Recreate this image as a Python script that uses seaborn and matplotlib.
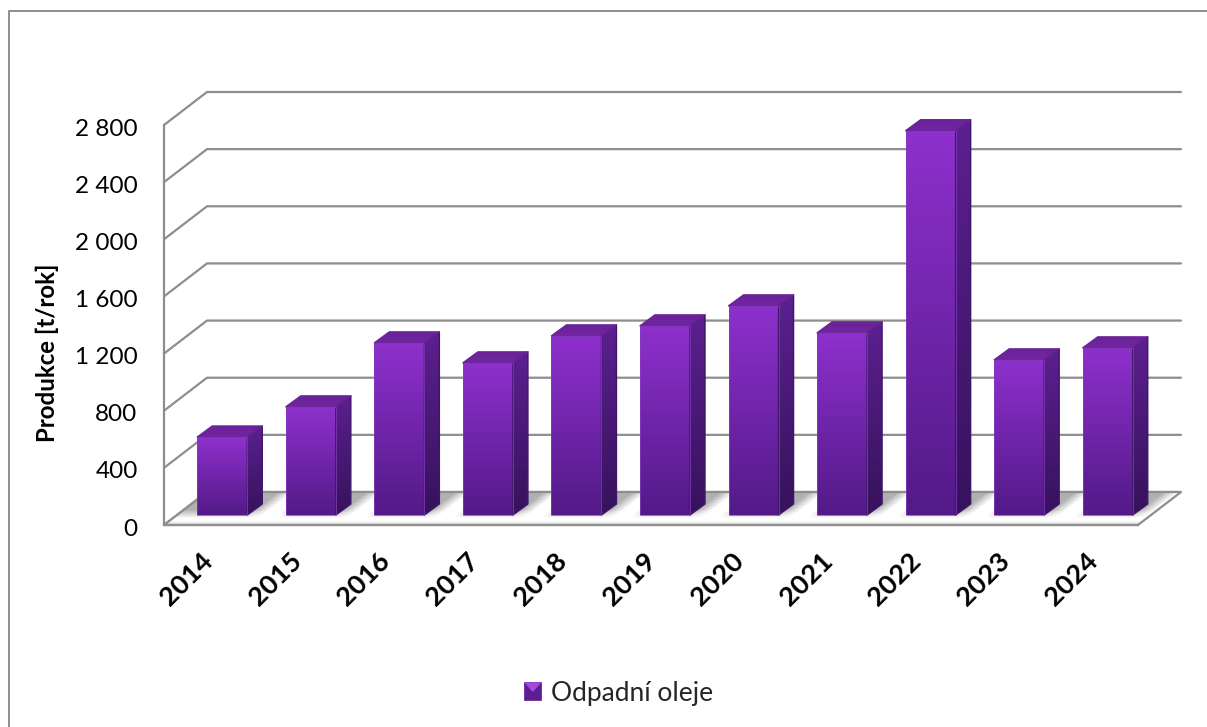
import matplotlib
matplotlib.use('Agg')
import matplotlib.pyplot as plt
from matplotlib.colors import LinearSegmentedColormap
from matplotlib.legend_handler import HandlerBase
from matplotlib.lines import Line2D
from matplotlib.patches import Patch, Polygon
from matplotlib.transforms import ScaledTranslation
import numpy as np
import seaborn as sns

# Chart data
years = ['2014', '2015', '2016', '2017', '2018', '2019', '2020', '2021', '2022', '2023', '2024']
production = [546, 757, 1205, 1065, 1254, 1324, 1464, 1275, 2690, 1086, 1170]
y_ticks = [0, 400, 800, 1200, 1600, 2000, 2400, 2800]
y_tick_labels = ['0', '400', '800', '1 200', '1 600', '2 000', '2 400', '2 800']
series_name = 'Odpadní oleje'
y_title = 'Produkce [t/rok]'

W, H = 1207, 727
LINE = '#8e8e8e'

sns.set_theme(style='white')
plt.rcParams['font.family'] = ['Lato', 'DejaVu Sans']

fig = plt.figure(figsize=(W / 100, H / 100), dpi=100)
ax = fig.add_axes([164 / W, (H - 525) / H, 974 / W, 400 / H])
ax.patch.set_visible(False)

# Size of one pixel in data units, for the fake 3D offsets
PX = len(years) / 974
PY = 2800 / 400


def x_of(px):
    return px * PX


def y_of(px):
    return px * PY


WALL_X, WALL_Y = x_of(43), y_of(33)
BASE_X, BASE_Y = x_of(14), y_of(10)
DEPTH_X, DEPTH_Y = x_of(15), y_of(11)


def gradient(verts, top, bottom, zorder, edge=None):
    # Vertical colour gradient clipped to a polygon
    verts = np.array(verts)
    poly = Polygon(verts, closed=True, facecolor='none', edgecolor=edge or 'none',
                   linewidth=1.0, joinstyle='round', zorder=zorder + 0.1, clip_on=False)
    ax.add_patch(poly)
    cmap = LinearSegmentedColormap.from_list('g', [top, bottom])
    im = ax.imshow(np.linspace(0, 1, 128).reshape(-1, 1), cmap=cmap, aspect='auto', zorder=zorder,
                   extent=(verts[:, 0].min(), verts[:, 0].max(), verts[:, 1].min(), verts[:, 1].max()))
    im.set_clip_path(poly)
    im.set_clip_box(fig.bbox)


def shift(label, dx, dy):
    # Move a tick label by some pixels
    label.set_transform(label.get_transform() + ScaledTranslation(dx / 100, dy / 100, fig.dpi_scale_trans))


sns.barplot(x=years, y=production, color='#7a28b0', width=0.565, ax=ax)
ax.set_xlim(-0.5, len(years) - 0.5)
ax.set_ylim(0, 2800)
ax.autoscale(False)

# Back wall, side wall
x0, x1 = ax.get_xlim()
for t in y_ticks:
    ax.plot([x0, x0 + WALL_X, x1 + WALL_X], [t, t + WALL_Y, t + WALL_Y], color=LINE, lw=1.6,
            zorder=1, clip_on=False, solid_joinstyle='miter')

# Floor: grey shadow with a white streak to the left of every bar
floor = Polygon([(x0, 0), (x0 + WALL_X, WALL_Y), (x1 + WALL_X, WALL_Y), (x1, 0)], closed=True,
                facecolor='none', edgecolor=LINE, lw=1.6, zorder=2, clip_on=False)
ax.add_patch(floor)
px_grid, v_grid = np.meshgrid(np.arange(0, 1020), np.arange(0, 34))
s_grid = (px_grid - v_grid * 43 / 33) / 88.55
phase = s_grid % 1
streak = np.where((phase > 0.89) | (phase < 0.22), 1.0, 0.0)
streak[s_grid < 0.22] = 0
streak = np.maximum(streak, np.clip((s_grid - 10.9) / 0.2, 0, 1))
kernel = np.ones(15) / 15
streak = np.apply_along_axis(lambda r: np.convolve(r, kernel, mode='same'), 1, streak)
shade = np.clip((v_grid - 6) / 9, 0, 1) * 0.31 * (1 - streak)
shade += np.where(v_grid < 4, 0.13 * (1 - v_grid / 4), 0)
floor_im = ax.imshow(1 - shade, cmap='gray', vmin=0, vmax=1, aspect='auto', origin='lower', zorder=1.5,
                     extent=(x0, x0 + x_of(1020), 0, y_of(34)))
floor_im.set_clip_path(floor)
floor_im.set_clip_box(fig.bbox)

# Bars: barplot gives the front faces, shift them onto the floor and add the depth
for bar, value in zip(ax.patches[:len(years)], production):
    left = bar.get_x() + BASE_X
    right = left + bar.get_width()
    bar.set_x(left)
    bar.set_y(BASE_Y)
    bar.set_facecolor('none')
    bar.set_edgecolor('#8540bd')
    bar.set_linewidth(0.5)
    bar.set_zorder(3.3)
    bar.set_clip_on(False)
    low, high = BASE_Y, BASE_Y + value
    gradient([(left, low), (right, low), (right, high), (left, high)], '#8e30cd', '#531a88', 3)
    gradient([(right, low), (right + DEPTH_X, low + DEPTH_Y), (right + DEPTH_X, high + DEPTH_Y), (right, high)],
             '#5c2090', '#36125c', 3, edge='#3e1668')
    gradient([(left, high), (right, high), (right + DEPTH_X, high + DEPTH_Y), (left + DEPTH_X, high + DEPTH_Y)],
             '#6a2399', '#72259f', 3, edge='#6a2399')

# Axes
sns.despine(ax=ax, top=True, right=True)
for side in ['left', 'bottom']:
    ax.spines[side].set_color(LINE)
    ax.spines[side].set_linewidth(1.6)
    ax.spines[side].set_zorder(2.5)
ax.set_yticks(y_ticks, y_tick_labels, fontsize=17.5, color='black')
ax.tick_params(axis='y', length=0, pad=19)
ax.tick_params(axis='x', length=0, pad=11)
ax.set_xticks(range(len(years)), years, fontsize=19.5, fontweight='bold', color='black',
              rotation=45, ha='right', rotation_mode='anchor')
for label in ax.get_yticklabels():
    shift(label, 0, -2)
for label in ax.get_xticklabels():
    shift(label, -8, -8)
ax.set_xlabel('')
ax.set_ylabel('')
fig.text(47 / W, 1 - 353 / H, y_title, rotation=90, ha='center', va='center', fontsize=17.3,
         fontweight='bold', color='black')


class PyramidHandler(HandlerBase):
    # Legend key with the same bevelled look as the bars
    def create_artists(self, legend, orig, xd, yd, width, height, fontsize, trans):
        x, y, w, h = -xd, -yd, width, height
        box = Polygon([(x, y), (x + w, y), (x + w, y + h), (x, y + h)], facecolor='#5c1f92',
                      edgecolor='#6a2b9e', lw=0.6, transform=trans)
        tri = Polygon([(x, y + h), (x + w, y + h), (x + w / 2, y + h * 0.45)], facecolor='#a24bdc',
                      edgecolor='none', transform=trans)
        return [box, tri]


handle = Patch(label=series_name)
fig.legend(handles=[handle], loc='center', bbox_to_anchor=(618.5 / W, 1 - 693 / H), frameon=False,
           fontsize=19, handlelength=0.65, handleheight=0.65, handletextpad=0.35,
           handler_map={Patch: PyramidHandler()})

# Outer frame, only top and left edges are inside the crop
fig.add_artist(Line2D([8.5 / W, 8.5 / W, 1], [0, 1 - 10.5 / H, 1 - 10.5 / H], color=LINE, lw=1.4))

fig.savefig('out.png', dpi=100)
